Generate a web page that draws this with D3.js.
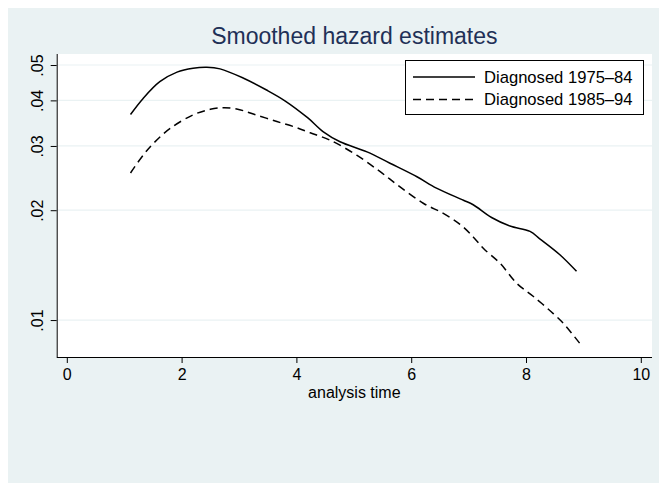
<!DOCTYPE html>
<html>
<head>
<meta charset="utf-8">
<script src="https://cdn.jsdelivr.net/npm/d3@7"></script>
<style>
  body { margin: 0; background: #fff; }
  svg text { font-family: "Liberation Sans", Arial, sans-serif; }
</style>
</head>
<body>
<svg id="chart" width="659" height="483"></svg>
<script>
// smoothed hazard, diagnosed 1975-84
const timeEarly = [1.11, 1.33, 1.62, 1.92, 2.2, 2.44, 2.67, 3.08, 3.48, 3.8, 4.2, 4.47, 4.76, 5.23, 5.63, 6.1, 6.44, 6.91, 7.08, 7.4, 7.72, 8.07, 8.24, 8.59, 8.88];
const hazardEarly = [.0366, .0405, .045, .0478, .049, .0493, .0488, .046, .0427, .0399, .0358, .0328, .0308, .0289, .0269, .0247, .023, .0213, .0207, .0191, .0181, .0175, .0167, .0151, .0136];

// smoothed hazard, diagnosed 1985-94
const timeLate = [1.11, 1.33, 1.51, 1.8, 2.2, 2.5, 2.73, 2.96, 3.25, 3.66, 4.0, 4.24, 4.59, 5.05, 5.46, 5.8, 6.21, 6.56, 6.85, 7.08, 7.26, 7.55, 7.84, 8.13, 8.48, 8.65, 8.97];
const hazardLate = [.0253, .0283, .0305, .0335, .0365, .0378, .0382, .0379, .0367, .035, .0337, .0326, .0311, .0283, .0255, .0232, .0209, .0196, .0183, .0169, .0157, .0143, .0126, .0116, .0104, .0098, .0085];

const seriesNames = ["Diagnosed 1975\u201384", "Diagnosed 1985\u201394"];
const xTicks = [0, 2, 4, 6, 8, 10];
const yTicks = [.01, .02, .03, .04, .05];

const svg = d3.select("#chart");
const bg = "#eaf2f3";

// outer background
svg.append("rect")
  .attr("x", 8).attr("y", 8)
  .attr("width", 651).attr("height", 475)
  .attr("fill", bg);

const plotLeft = 56.7, plotRight = 652, plotTop = 54, plotBottom = 357;

const xScale = d3.scaleLinear().domain([-0.176, 10.195]).range([plotLeft, plotRight]);
const yScale = d3.scaleLog().domain([.00792, .0536]).range([plotBottom, plotTop]);

svg.append("rect")
  .attr("x", plotLeft).attr("y", plotTop)
  .attr("width", plotRight - plotLeft).attr("height", plotBottom - plotTop)
  .attr("fill", "#fff");

// gridlines
svg.append("g")
  .selectAll("line")
  .data(yTicks)
  .join("line")
  .attr("x1", plotLeft).attr("x2", plotRight)
  .attr("y1", (d) => yScale(d)).attr("y2", (d) => yScale(d))
  .attr("stroke", bg)
  .attr("stroke-width", 1.2);

// axes
const yAxis = svg.append("g")
  .attr("transform", `translate(${plotLeft},0)`)
  .call(d3.axisLeft(yScale).tickValues(yTicks).tickSize(6).tickPadding(0)
    .tickFormat((d) => d3.format(".2f")(d).replace(/^0/, "")));
yAxis.select(".domain").attr("stroke", "#000").attr("d", `M0.5,${plotTop}V${plotBottom}`);
yAxis.selectAll(".tick line").attr("stroke", "#000");
yAxis.selectAll(".tick text")
  .attr("x", 0).attr("dy", 0)
  .attr("transform", "translate(-14,0) rotate(-90)")
  .attr("text-anchor", "middle")
  .attr("font-size", 16)
  .attr("fill", "#000")
  .style("font-family", "'Liberation Sans', Arial, sans-serif");

const xAxis = svg.append("g")
  .attr("transform", `translate(0,${plotBottom})`)
  .call(d3.axisBottom(xScale).tickValues(xTicks).tickSize(6).tickPadding(0));
xAxis.select(".domain").attr("stroke", "#000").attr("d", `M${plotLeft},0.5H${plotRight}`);
xAxis.selectAll(".tick line").attr("stroke", "#000");
xAxis.selectAll(".tick text")
  .attr("y", 23).attr("dy", 0)
  .attr("font-size", 16)
  .attr("fill", "#000")
  .style("font-family", "'Liberation Sans', Arial, sans-serif");

svg.append("text")
  .attr("x", (plotLeft + plotRight) / 2).attr("y", 398)
  .attr("text-anchor", "middle")
  .attr("font-size", 16)
  .text("analysis time");

svg.append("text")
  .attr("x", (plotLeft + plotRight) / 2).attr("y", 44)
  .attr("text-anchor", "middle")
  .attr("font-size", 23)
  .attr("fill", "#1f3057")
  .text("Smoothed hazard estimates");

// curves
const valueLine = d3.line()
  .x((d) => xScale(d[0]))
  .y((d) => yScale(d[1]))
  .curve(d3.curveCatmullRom.alpha(0.5));

svg.append("path")
  .datum(d3.zip(timeEarly, hazardEarly))
  .attr("d", valueLine)
  .attr("fill", "none")
  .attr("stroke", "#000")
  .attr("stroke-width", 1.5);

svg.append("path")
  .datum(d3.zip(timeLate, hazardLate))
  .attr("d", valueLine)
  .attr("fill", "none")
  .attr("stroke", "#000")
  .attr("stroke-width", 1.5)
  .attr("stroke-dasharray", "8,5");

// legend
const legend = svg.append("g");
legend.append("rect")
  .attr("x", 405.5).attr("y", 60.5)
  .attr("width", 238).attr("height", 54)
  .attr("fill", "#fff")
  .attr("stroke", "#000");

const dashes = [null, "8,5"];
seriesNames.forEach((name, i) => {
  const y = 77 + i * 22.5;
  legend.append("line")
    .attr("x1", 413).attr("x2", 475)
    .attr("y1", y).attr("y2", y)
    .attr("stroke", "#000")
    .attr("stroke-width", 1.5)
    .attr("stroke-dasharray", dashes[i]);
  legend.append("text")
    .attr("x", 484).attr("y", y + 5.5)
    .attr("font-size", 16.6)
    .text(name);
});
</script>
</body>
</html>
